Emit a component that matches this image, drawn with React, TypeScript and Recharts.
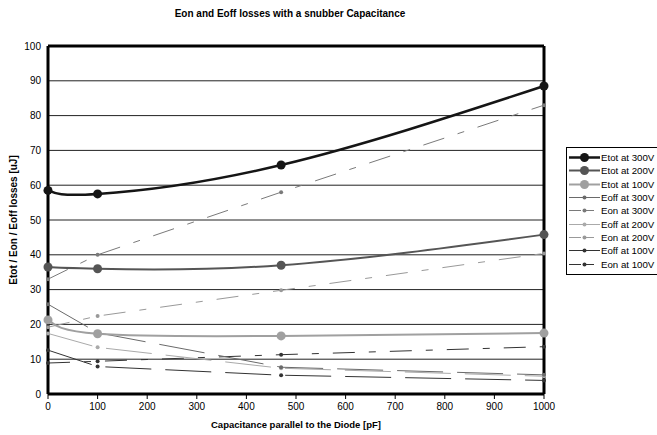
import { CartesianGrid, Legend, Line, LineChart, ReferenceLine, XAxis, YAxis } from "recharts"

// capacitance values where losses were measured [pF]
const capacitance = [0, 100, 470, 1000]

// losses in uJ
const etot300 = [58.5, 57.5, 65.8, 88.5]
const etot200 = [36.5, 36.0, 37.0, 45.8]
const etot100 = [21.3, 17.3, 16.7, 17.5]
const eoff300 = [25.8, 17.6, 7.7, 5.5]
const eon300 = [33.0, 40.0, 58.0, 83.0]
const eoff200 = [17.4, 13.4, 7.4, 5.1]
const eon200 = [19.2, 22.4, 29.8, 40.4]
const eoff100 = [12.6, 7.9, 5.4, 3.9]
const eon100 = [8.9, 9.4, 11.3, 13.6]

const xTicks = [0, 100, 200, 300, 400, 500, 600, 700, 800, 900, 1000]
const yTicks = [0, 10, 20, 30, 40, 50, 60, 70, 80, 90, 100]

const FONT = "'Liberation Sans', Arial, sans-serif"
const EOFF_DASH = "46 14"
const EON_DASH = "22 14 7 14"

const series = [
  { key: "etot300", name: "Etot at 300V", values: etot300, color: "#151515", width: 2.5, r: 4.5, dash: undefined, smooth: true },
  { key: "etot200", name: "Etot at 200V", values: etot200, color: "#555555", width: 2, r: 4.5, dash: undefined, smooth: true },
  { key: "etot100", name: "Etot at 100V", values: etot100, color: "#a0a0a0", width: 2, r: 4.5, dash: undefined, smooth: true },
  { key: "eoff300", name: "Eoff at 300V", values: eoff300, color: "#6a6a6a", width: 1, r: 2, dash: EOFF_DASH, smooth: false },
  { key: "eon300", name: "Eon at 300V", values: eon300, color: "#7a7a7a", width: 1, r: 2, dash: EON_DASH, smooth: false },
  { key: "eoff200", name: "Eoff at 200V", values: eoff200, color: "#aaaaaa", width: 1, r: 2, dash: EOFF_DASH, smooth: false },
  { key: "eon200", name: "Eon at 200V", values: eon200, color: "#999999", width: 1, r: 2, dash: EON_DASH, smooth: false },
  { key: "eoff100", name: "Eoff at 100V", values: eoff100, color: "#333333", width: 1, r: 2, dash: EOFF_DASH, smooth: false },
  { key: "eon100", name: "Eon at 100V", values: eon100, color: "#333333", width: 1, r: 2, dash: EON_DASH, smooth: false },
]

const rows = capacitance.map((c, i) => {
  const row: Record<string, number> = { c }
  series.forEach((s) => {
    row[s.key] = s.values[i]
  })
  return row
})

const LegendBox = () => (
  <div
    style={{
      border: "1px solid #000",
      background: "#fff",
      padding: "3px 0 3px 1px",
      width: 100,
      fontFamily: FONT,
      fontSize: 9.7,
      color: "#000",
    }}
  >
    {series.map((s) => {
      const isEon = s.dash === EON_DASH
      return (
        <div key={s.key} style={{ display: "flex", alignItems: "center", height: 13.3 }}>
          <svg width={33} height={13} style={{ display: "block" }}>
            <line
              x1={1}
              x2={isEon ? 29 : 32}
              y1={6.5}
              y2={6.5}
              stroke={s.color}
              strokeWidth={s.width}
              strokeDasharray={isEon ? "12 3 10 30" : undefined}
            />
            <circle cx={16.5} cy={6.5} r={s.r} fill={s.color} />
          </svg>
          <span style={{ whiteSpace: "nowrap", lineHeight: "13px" }}>{s.name}</span>
        </div>
      )
    })}
  </div>
)

export default function App() {
  return (
    <div style={{ position: "absolute", left: 0, top: 0, width: 657, height: 435, overflow: "hidden", background: "#fff" }}>
      <LineChart width={657} height={435} data={rows} margin={{ top: 46, right: 113, bottom: 0, left: 8 }}>
        <CartesianGrid vertical={false} stroke="#222" strokeWidth={1} />
        <XAxis
          dataKey="c"
          type="number"
          domain={[0, 1000]}
          ticks={xTicks}
          height={41}
          tickSize={5}
          tickMargin={4}
          axisLine={{ stroke: "#000", strokeWidth: 3 }}
          tickLine={{ stroke: "#000", strokeWidth: 1 }}
          tick={{ fill: "#000", fontSize: 10, fontFamily: FONT }}
        />
        <YAxis
          type="number"
          domain={[0, 100]}
          ticks={yTicks}
          width={40}
          tickSize={5}
          tickMargin={2}
          axisLine={{ stroke: "#000", strokeWidth: 3 }}
          tickLine={false}
          tick={{ fill: "#000", fontSize: 10, fontFamily: FONT }}
        />
        <ReferenceLine y={100} stroke="#000" strokeWidth={3} />
        <ReferenceLine x={1000} stroke="#000" strokeWidth={3} />
        {series
          .slice()
          .reverse()
          .map((s) => (
            <Line
              key={s.key}
              dataKey={s.key}
              name={s.name}
              type={s.smooth ? "natural" : "linear"}
              stroke={s.color}
              strokeWidth={s.width}
              strokeDasharray={s.dash}
              dot={{ r: s.r, fill: s.color, stroke: s.color, strokeWidth: 0 }}
              activeDot={false}
              isAnimationActive={false}
            />
          ))}
        <Legend
          layout="vertical"
          align="center"
          verticalAlign="middle"
          content={() => <LegendBox />}
          wrapperStyle={{ left: 566, top: 147, width: 110 }}
        />
      </LineChart>
      <svg width={657} height={435} style={{ position: "absolute", left: 0, top: 0, pointerEvents: "none" }}>
        <text x={290} y={17} textAnchor="middle" fontFamily={FONT} fontSize={10} fontWeight="bold" fill="#000">
          Eon and Eoff losses with a snubber Capacitance
        </text>
        <text x={296} y={428} textAnchor="middle" fontFamily={FONT} fontSize={9.5} fontWeight="bold" fill="#000">
          Capacitance parallel to the Diode [pF]
        </text>
        <text
          x={0}
          y={0}
          transform="translate(17 220) rotate(-90)"
          textAnchor="middle"
          fontFamily={FONT}
          fontSize={10}
          fontWeight="bold"
          fill="#000"
        >
          Etot / Eon / Eoff losses [uJ]
        </text>
      </svg>
    </div>
  )
}
